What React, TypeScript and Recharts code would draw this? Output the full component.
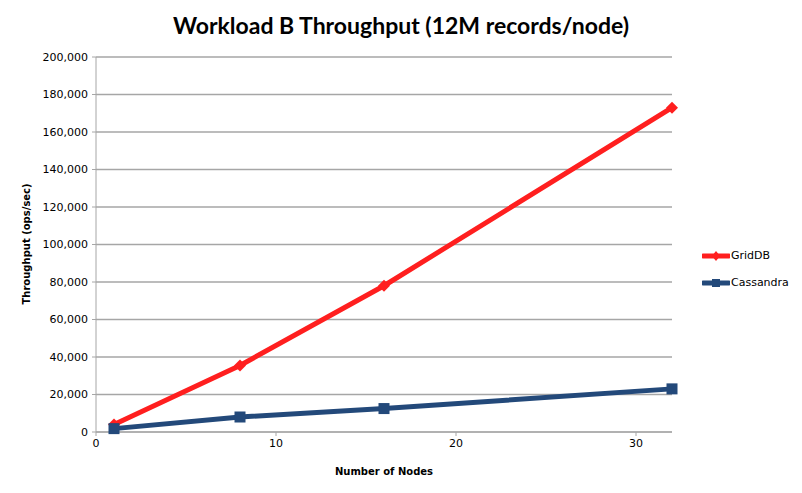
import {
    LineChart,
    Line,
    XAxis,
    YAxis,
    CartesianGrid,
} from 'recharts';

const nodes = [1, 8, 16, 32];
const gridDB = [4000, 35500, 78000, 173000];
const cassandra = [1800, 8000, 12500, 23000];
const xTicks = [0, 10, 20, 30];
const yTicks = [0, 20000, 40000, 60000, 80000, 100000, 120000, 140000, 160000, 180000, 200000];

const RED = '#ff1f1f';
const NAVY = '#23497a';

const chartData = nodes.map((n, i) => ({ nodes: n, griddb: gridDB[i], cassandra: cassandra[i] }));

const tickFont = { fill: '#000', fontSize: 11, fontFamily: 'DejaVu Sans' };

function Diamond(props: any) {
    const { cx, cy } = props;
    if (cx == null || cy == null) return null;
    const s = 6;
    return <polygon points={`${cx},${cy - s} ${cx + s},${cy} ${cx},${cy + s} ${cx - s},${cy}`} fill={RED} />;
}

function Square(props: any) {
    const { cx, cy } = props;
    if (cx == null || cy == null) return null;
    const s = 5.5;
    return <rect x={cx - s} y={cy - s} width={s * 2} height={s * 2} fill={NAVY} />;
}

function LegendBox() {
    const items = [
        { name: 'GridDB', color: RED, marker: 'diamond' },
        { name: 'Cassandra', color: NAVY, marker: 'square' },
    ];
    return (
        <div style={{
            position: 'absolute', left: 702, top: 242, width: 100,
            fontFamily: 'DejaVu Sans', fontSize: 11, color: '#000'
        }}>
            {items.map(it => (
                <div key={it.name} style={{ display: 'flex', alignItems: 'center', height: 27 }}>
                    <svg width={28} height={10} style={{ marginRight: 1 }}>
                        <line x1={1} y1={5} x2={27} y2={5} stroke={it.color} strokeWidth={5} strokeLinecap="round" />
                        {it.marker === 'diamond'
                            ? <polygon points="14,0 18,5 14,10 10,5" fill={it.color} />
                            : <rect x={10} y={1} width={8} height={8} fill={it.color} />}
                    </svg>
                    <span>{it.name}</span>
                </div>
            ))}
        </div>
    );
}

export default function App() {
    return (
        <div style={{ position: 'absolute', left: 0, top: 0, width: 802, height: 493, background: '#fff' }}>
            <div style={{
                position: 'absolute', left: 0, top: 11, width: 802, textAlign: 'center',
                fontFamily: 'Lato', fontWeight: 'bold', fontSize: 23, color: '#000'
            }}>
                Workload B Throughput (12M records/node)
            </div>
            <LineChart
                width={802}
                height={493}
                data={chartData}
                margin={{ top: 57, right: 130, left: 0, bottom: 0 }}
            >
                <CartesianGrid horizontal vertical={false} stroke="#a6a6a6" strokeWidth={1.5} />
                <XAxis
                    dataKey="nodes"
                    type="number"
                    domain={[0, 32]}
                    ticks={xTicks}
                    stroke="#a6a6a6"
                    tickSize={4}
                    tick={tickFont}
                    tickMargin={3}
                    height={61}
                    label={{ value: 'Number of Nodes', position: 'insideBottom', offset: 18, style: { fontFamily: 'DejaVu Sans', fontWeight: 'bold', fontSize: 10, fill: '#000' } }}
                />
                <YAxis
                    type="number"
                    domain={[0, 200000]}
                    ticks={yTicks}
                    interval={0}
                    stroke="#a6a6a6"
                    tickSize={4}
                    tick={tickFont}
                    tickMargin={4}
                    width={96}
                    tickFormatter={(v: number) => v.toLocaleString('en-US')}
                    label={{ value: 'Throughput  (ops/sec)', angle: -90, position: 'insideLeft', offset: 26, dy: 60, style: { fontFamily: 'DejaVu Sans', fontWeight: 'bold', fontSize: 10, fill: '#000' } }}
                />
                <Line
                    type="linear"
                    dataKey="griddb"
                    name="GridDB"
                    stroke={RED}
                    strokeWidth={5}
                    dot={<Diamond />}
                    activeDot={false}
                    isAnimationActive={false}
                />
                <Line
                    type="linear"
                    dataKey="cassandra"
                    name="Cassandra"
                    stroke={NAVY}
                    strokeWidth={5}
                    dot={<Square />}
                    activeDot={false}
                    isAnimationActive={false}
                />
            </LineChart>
            <LegendBox />
        </div>
    );
}
